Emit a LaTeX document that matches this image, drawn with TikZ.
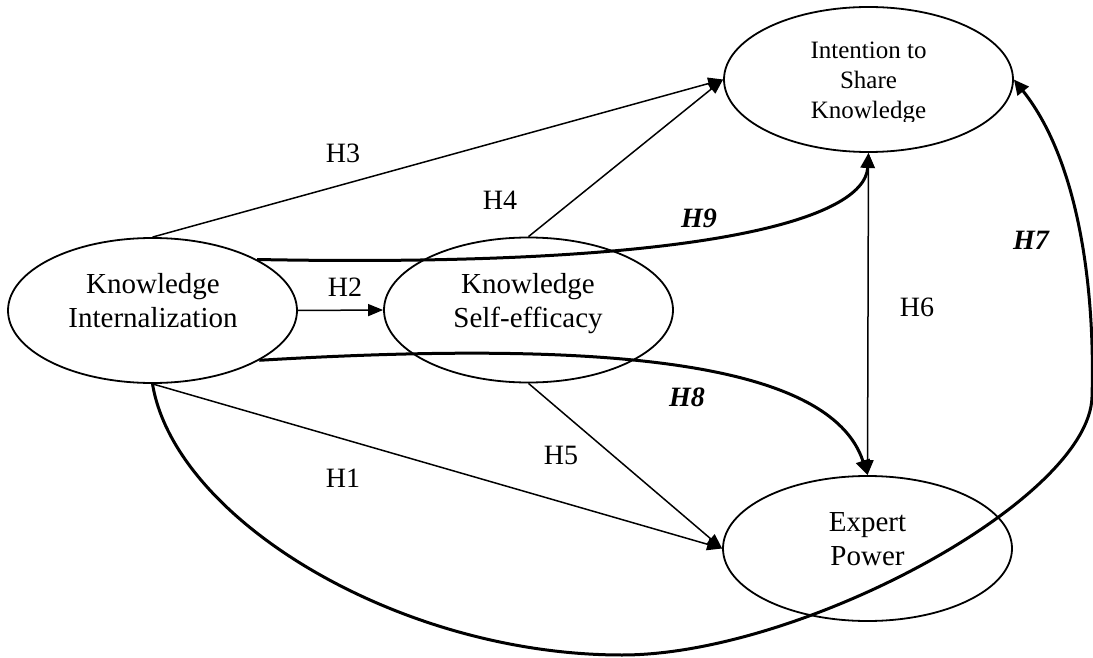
\documentclass[tikz,border=0pt]{standalone}
\usepackage{fontspec}
\setmainfont{Liberation Serif}
\usetikzlibrary{arrows.meta,shapes.geometric}

\begin{document}
\begin{tikzpicture}[x=1pt,y=-1pt,
  construct/.style={draw, ellipse, line width=1.8pt, minimum width=289pt,
    minimum height=145pt, inner sep=0pt},
  ctext/.style={align=center, inner sep=0pt, font=\fontsize{29}{34}\selectfont},
  link/.style={line width=1.5pt, -{Triangle[length=15pt,width=12pt]}},
  twoway/.style={line width=1.5pt,
    {Triangle[length=15pt,width=12pt]}-{Triangle[length=15pt,width=12pt]}},
  strong/.style={line width=3pt, -{Triangle[length=15pt,width=14pt]}},
  hyp/.style={inner sep=0pt, font=\fontsize{28}{28}\selectfont},
  hypb/.style={inner sep=0pt, font=\fontsize{28}{28}\selectfont\bfseries\itshape},
]
\useasboundingbox (0,0) rectangle (1093,658);

% constructs
\node[construct] (isk) at (868.5,79.5) {};
\node[construct] (ki)  at (152.5,310.5) {};
\node[construct] (kse) at (528.5,310) {};
\node[construct] (ep)  at (867.5,548.5) {};

% construct names
\node[ctext] (kiT)  at (153,300.7) {Knowledge\\Internalization};
\node[ctext] (kseT) at (528,303.2) {Knowledge\\Self-efficacy};
\node[ctext] (epT)  at (867.5,538.9) {Expert\\Power};
\begin{scope}
  \clip (760,20) rectangle (980,122);
  \node[ctext, font=\fontsize{25}{30}\selectfont] (iskT) at (868.5,83) {Intention to\\Share\\Knowledge};
\end{scope}

% direct paths
\draw[link] (ki.north) -- (isk.west);
\draw[link] (kse.north) -- (isk.west);
\draw[link] (ki.east) -- (kse.west);
\draw[link] (ki.south) -- (ep.west);
\draw[link] (kse.south) -- (ep.west);
\draw[twoway] (isk.south) -- (ep.north);

% mediated paths
\draw[strong] (ki.26.5) .. controls (700,268) and (865,220) .. (isk.south);
\draw[strong] (ki.-25.6) .. controls (600,340) and (830,360) .. (ep.north);
\draw[strong] (ki.south) .. controls (175,520) and (400,655) .. (622,655)
  .. controls (800,655) and (1089,500) .. (1092,397)
  .. controls (1095,300) and (1082,165) .. (isk.east);

% hypothesis labels
\node[hyp]  (h3) at (343,153) {H3};
\node[hyp]  (h4) at (500,200) {H4};
\node[hypb] (h9) at (699,218) {H9};
\node[hyp]  (h2) at (345,287) {H2};
\node[hyp]  (h6) at (917,307) {H6};
\node[hypb] (h7) at (1031,240) {H7};
\node[hypb] (h8) at (687,397) {H8};
\node[hyp]  (h5) at (561,455) {H5};
\node[hyp]  (h1) at (343,478) {H1};
\end{tikzpicture}
\end{document}
